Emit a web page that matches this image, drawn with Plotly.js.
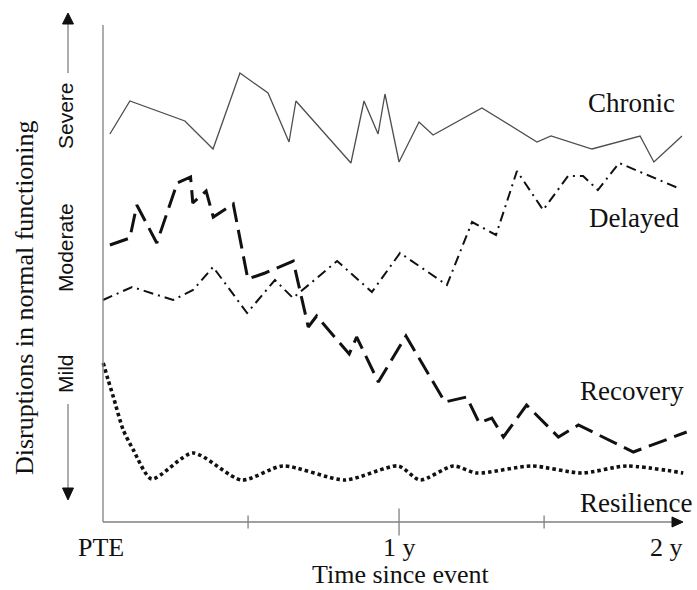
<!DOCTYPE html>
<html>
<head>
<meta charset="utf-8">
<script src="https://cdn.plot.ly/plotly-3.0.1.min.js"></script>
<style>html,body{margin:0;padding:0;background:#fff;}#chart{width:697px;height:590px;}</style>
</head>
<body>
<div id="chart"></div>
<script>
// Time since event (months) and level of disruption (arbitrary units)
const chronicX = [0.28,1.09,3.32,4.46,5.55,6.69,7.54,7.82,10.05,10.58,11.15,11.43,12.0,12.81,13.38,15.36,17.59,18.16,19.82,21.77,22.33,23.47];
const chronicY = [388,421,401,373,449,429,380,421,359,421,388,428,360,400,387,414,380,386,373,386,360,386];

const delayedX = [0,1.18,2.84,3.65,4.46,5.84,6.97,7.70,9.49,10.90,12.04,13.94,14.96,15.93,16.78,17.84,18.85,19.46,20.06,20.92,23.31];
const delayedY = [222,235,222,232,255,209,242,224,261,230,269,237,300,287,351,312,346,346,332,359,334];

const recoveryX = [0.28,1.09,1.37,2.18,3.01,3.55,3.64,4.18,4.47,5.28,5.87,6.57,7.71,8.32,8.66,9.98,10.28,11.16,12.28,13.86,14.74,15.25,15.76,16.23,17.17,18.46,19.27,21.50,23.66];
const recoveryY = [277,284,317,279,339,345,319,331,305,318,243,249,261,195,206,168,185,140,186,120,125,99,104,85,117,85,97,70,90];

const resilienceX = [0.01,0.21,0.42,0.82,1.23,1.97,3.64,5.62,7.28,9.81,11.97,12.85,14.20,15.15,17.38,19.40,21.23,23.52];
const resilienceY = [159,142,125,92,72,43,69,42,56,42,56,42,56,49,56,49,56,49];

const seriesNames = ['Chronic','Delayed','Recovery','Resilience'];
const seriesLabelX = [21.44,21.52,21.44,21.61];
const seriesLabelY = [419,304,131,19];

const tickLabels = ['PTE','1 y','2 y'];
const tickLabelX = [-0.08,12,22.86];
const tickMarks = [5.88,12,17.88];
const tickLong = [false,true,false];

const severityLabels = ['Severe','Moderate','Mild'];
const severityY = [406,274,148];

const xTitle = 'Time since event';
const yTitle = 'Disruptions in normal functioning';

const PX = 24.67; // pixels per month
const serif = 'Liberation Serif, Times New Roman, serif';
const sans = 'Liberation Sans, Arial, sans-serif';
const axisCol = '#808080';

const traces = [
  {x: chronicX, y: chronicY, mode:'lines', line:{color:'#4d4d4d', width:1.3}},
  {x: delayedX, y: delayedY, mode:'lines', line:{color:'#111', width:2, dash:'10px,5px,2px,5px'}},
  {x: recoveryX, y: recoveryY, mode:'lines', line:{color:'#111', width:3, dash:'19px,8px'}},
  {x: resilienceX, y: resilienceY, mode:'lines', line:{color:'#111', width:3.6, dash:'3.5px,3px', shape:'spline', smoothing:0.7}}
].map((t,i)=>Object.assign(t,{name:seriesNames[i], hoverinfo:'skip', showlegend:false}));

const ax = -35/PX; // position of the left severity arrow
const shapes = [];
// y axis line
shapes.push({type:'line', xref:'x', yref:'y', x0:0, x1:0, y0:0, y1:497, line:{color:axisCol, width:1.3}});
// x axis line
shapes.push({type:'line', xref:'x', yref:'y', x0:0, x1:569/PX, y0:0, y1:0, line:{color:axisCol, width:1.3}});
shapes.push({type:'path', xref:'x', yref:'y', path:`M ${569/PX},5 L ${580/PX},0 L ${569/PX},-5 Z`, fillcolor:'#111', line:{color:'#111', width:1}});
// tick marks
tickMarks.forEach((t,i)=>{
  const h = tickLong[i] ? 13.5 : 6.5;
  shapes.push({type:'line', xref:'x', yref:'y', x0:t, x1:t, y0:-h, y1:h, line:{color:axisCol, width:1.3}});
});
// severity arrow
shapes.push({type:'line', xref:'x', yref:'y', x0:ax, x1:ax, y0:449, y1:499, line:{color:axisCol, width:1.3}});
shapes.push({type:'line', xref:'x', yref:'y', x0:ax, x1:ax, y0:118, y1:34, line:{color:axisCol, width:1.3}});
shapes.push({type:'path', xref:'x', yref:'y', path:`M ${ax-5.5/PX},498 L ${ax},509 L ${ax+5.5/PX},498 Z`, fillcolor:'#111', line:{color:'#111', width:1}});
shapes.push({type:'path', xref:'x', yref:'y', path:`M ${ax-5.5/PX},34 L ${ax},22 L ${ax+5.5/PX},34 Z`, fillcolor:'#111', line:{color:'#111', width:1}});

const annotations = [];
seriesNames.forEach((n,i)=>annotations.push({x:seriesLabelX[i], y:seriesLabelY[i], text:n, showarrow:false, font:{family:serif, size:27, color:'#111'}}));
tickLabels.forEach((n,i)=>annotations.push({x:tickLabelX[i], y:-25, text:n, showarrow:false, font:{family:serif, size:26, color:'#111'}}));
annotations.push({x:12.04, y:-52, text:xTitle, showarrow:false, font:{family:serif, size:26, color:'#111'}});
annotations.push({x:-79/PX, y:224, text:yTitle, textangle:-90, showarrow:false, font:{family:serif, size:26, color:'#111'}});
severityLabels.forEach((n,i)=>annotations.push({x:-38/PX, y:severityY[i], text:n, textangle:-90, showarrow:false, font:{family:sans, size:21, color:'#111'}}));

const layout = {
  width:697, height:590,
  margin:{l:0,r:0,t:0,b:0},
  paper_bgcolor:'#fff', plot_bgcolor:'#fff',
  xaxis:{range:[-103/PX, 594/PX], visible:false, fixedrange:true},
  yaxis:{range:[-68, 522], visible:false, fixedrange:true},
  shapes, annotations, showlegend:false
};
Plotly.newPlot('chart', traces, layout, {displayModeBar:false, staticPlot:true});
</script>
</body>
</html>
